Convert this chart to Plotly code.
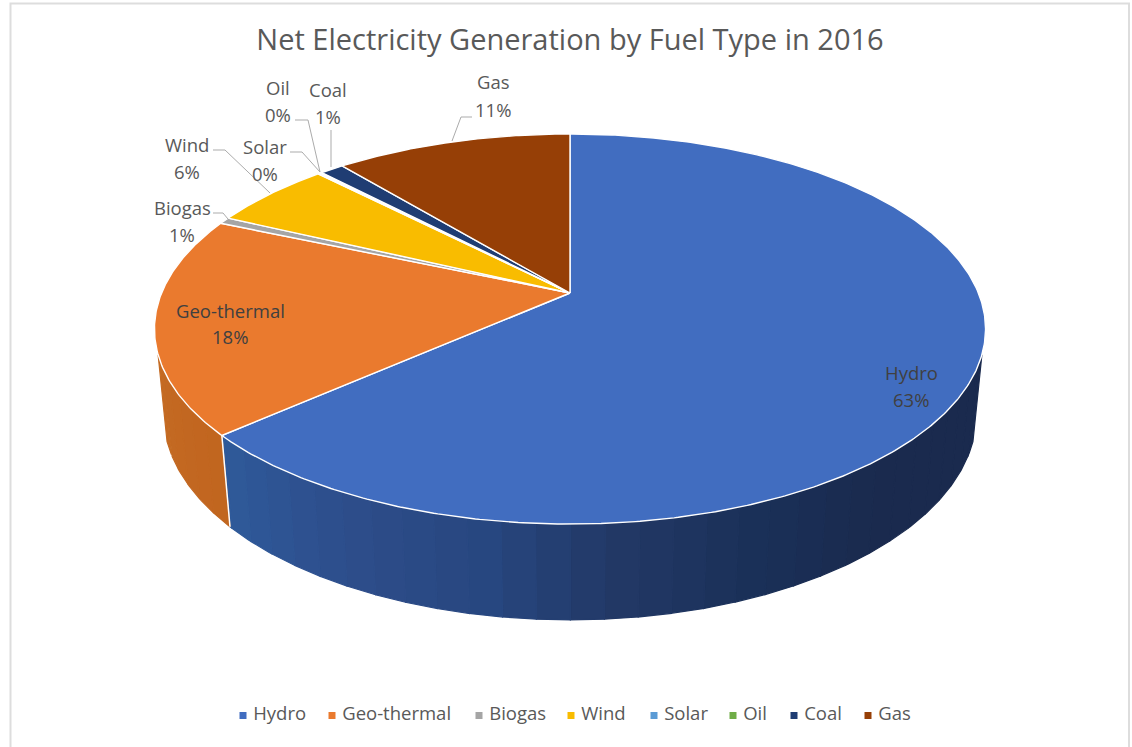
import math
import plotly.graph_objects as go

# ---- data ----
categories = ["Hydro", "Geo-thermal", "Biogas", "Wind", "Solar", "Oil", "Coal", "Gas"]
shares = [63.45, 18.05, 0.55, 5.65, 0.1, 0.1, 1.1, 11.0]

# ---- style ----
colors = ["#416DC0", "#EA7A2E", "#A5A5A5", "#F9BC00", "#5B9BD5", "#70AD47", "#1F3D73", "#963F06"]
wall_stops = {
    "Hydro": [(60, "#1A2A4E"), (140, "#1A2A4E"), (158, "#1A3058"), (175, "#223866"),
              (190, "#274780"), (205, "#2D4C89"), (228, "#2F5A9A")],
    "Geo-thermal": [(228, "#C1651F"), (290, "#C97228")],
}
FONT = "Open Sans"
TEXT = "#595959"

# ---- perspective model of the disc, in page pixels ----
CX, CY, A, B, K = 570.0, 293.0, 408.4, 188.4, 0.1846
DROP, PERSP = 85.0, 0.021
W, H = 1132, 747


def project(deg, level):
    t = math.radians(deg)
    sx, sy = math.sin(t), -math.cos(t)
    w = 1 - K * sy + PERSP * level
    return CX + A * sx / w, CY + (B * sy + DROP * level) / w


def hexmix(stops, deg):
    if deg <= stops[0][0]:
        return stops[0][1]
    for (a, ca), (b, cb) in zip(stops, stops[1:]):
        if deg <= b:
            f = (deg - a) / (b - a)
            rgb = [round(int(ca[i:i + 2], 16) * (1 - f) + int(cb[i:i + 2], 16) * f) for i in (1, 3, 5)]
            return "rgb(%d,%d,%d)" % tuple(rgb)
    return stops[-1][1]


def frange(a, b, step):
    n = max(1, int(round((b - a) / step)))
    return [a + (b - a) * i / n for i in range(n + 1)]


fig = go.Figure()
edges = [0.0]
for s in shares:
    edges.append(edges[-1] + s * 360 / sum(shares))

# side walls, front part only
VIS_A, VIS_B = 108.0, 252.0
for name, a0, a1 in zip(categories, edges[:-1], edges[1:]):
    lo, hi = max(a0, VIS_A), min(a1, VIS_B)
    if hi <= lo or name not in wall_stops:
        continue
    steps = frange(lo, hi, 0.5)
    for i in range(0, len(steps) - 1, 8):
        part = steps[i:i + 9]
        top = [project(d, 0) for d in part]
        bottom = [project(d, 1) for d in reversed(part)]
        pts = top + bottom + [top[0]]
        col = hexmix(wall_stops[name], (part[0] + part[-1]) / 2)
        fig.add_trace(go.Scatter(
            x=[v[0] for v in pts], y=[v[1] for v in pts],
            mode="lines", fill="toself", fillcolor=col, line=dict(color=col, width=1.2),
            hoverinfo="skip", showlegend=False))

# white seam between slices on the wall
for e in edges[1:-1]:
    if VIS_A < e < VIS_B:
        p, q = project(e, 0), project(e, 1)
        fig.add_trace(go.Scatter(x=[p[0], q[0]], y=[p[1], q[1]], mode="lines",
                                 line=dict(color="white", width=1.5),
                                 hoverinfo="skip", showlegend=False))

# top face
for name, col, a0, a1, s in zip(categories, colors, edges[:-1], edges[1:], shares):
    arc = [project(d, 0) for d in frange(a0, a1, 0.5)]
    xs = [CX] + [v[0] for v in arc] + [CX]
    ys = [CY] + [v[1] for v in arc] + [CY]
    fig.add_trace(go.Scatter(x=xs, y=ys, mode="lines", fill="toself", fillcolor=col,
                             line=dict(color="white", width=1.4), name=name,
                             text=f"{name}: {s}%", hoverinfo="text", showlegend=False))

# legend row: swatch and name for each category
legend_x = [243, 332, 479, 571, 654, 733, 794, 868]
LEGEND_Y = 715.5
for name, col, lx in zip(categories, colors, legend_x):
    fig.add_trace(go.Scatter(x=[lx], y=[LEGEND_Y], mode="markers+text", name=name,
                             marker=dict(symbol="square", size=7, color=col),
                             text=[" " + name], textposition="middle right",
                             textfont=dict(family=FONT, size=18.5, color=TEXT),
                             hoverinfo="skip", showlegend=False))

# leader lines
leaders = {
    "Gas": [(452, 141), (461, 117), (472, 117)],
    "Coal": [(331, 167), (331, 130)],
    "Oil": [(320, 172), (308, 120), (295, 120)],
    "Solar": [(320, 172), (302, 152), (290, 152)],
    "Wind": [(270, 193), (225, 150), (213, 150)],
    "Biogas": [(228, 219), (223, 213), (213, 213)],
}
for pts in leaders.values():
    fig.add_trace(go.Scatter(x=[p[0] for p in pts], y=[p[1] for p in pts], mode="lines",
                             line=dict(color="#ABABAB", width=1),
                             hoverinfo="skip", showlegend=False))

# data labels: name line and percent line
label_pos = {
    "Hydro": (911, 372, 399), "Geo-thermal": (230, 310, 336), "Biogas": (182, 207, 234),
    "Wind": (187, 144, 171), "Solar": (265, 146, 173), "Oil": (278, 87, 114),
    "Coal": (328, 89, 116), "Gas": (493, 81, 109),
}
inside = {"Hydro", "Geo-thermal"}
annotations = []
for name, s in zip(categories, shares):
    x, y1, y2 = label_pos[name]
    c = "#404040" if name in inside else TEXT
    for txt, y in ((name, y1), (f"{s:.0f}%", y2)):
        annotations.append(dict(x=x, y=y, xref="x", yref="y", text=txt, showarrow=False,
                                font=dict(family=FONT, size=18.5, color=c)))

fig.update_layout(
    width=W, height=H, margin=dict(l=0, r=0, t=0, b=0), autosize=False,
    paper_bgcolor="white", plot_bgcolor="white", showlegend=False,
    title=dict(text="Net Electricity Generation by Fuel Type in 2016", x=570 / W, xanchor="center",
               y=1 - 40 / H, yanchor="middle", font=dict(family=FONT, size=29, color=TEXT)),
    xaxis=dict(range=[0, W], visible=False, fixedrange=True),
    yaxis=dict(range=[H, 0], visible=False, fixedrange=True),
    annotations=annotations,
    shapes=[dict(type="rect", xref="x", yref="y", x0=10.5, x1=1129, y0=3.5, y1=770,
                 line=dict(color="#DDDDDD", width=2), fillcolor="rgba(0,0,0,0)", layer="below")],
)
fig.write_html("out.html", config={"displayModeBar": False},
               post_script="document.body.style.margin='0';")
